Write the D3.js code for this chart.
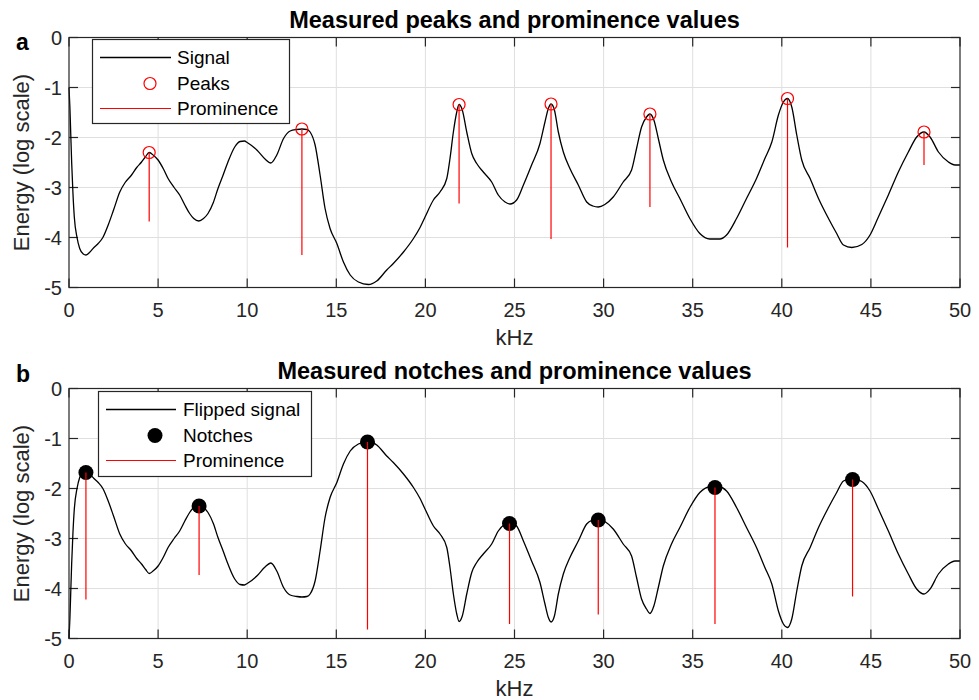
<!DOCTYPE html>
<html>
<head>
<meta charset="utf-8">
<script src="https://cdn.jsdelivr.net/npm/d3@7"></script>
<style>
  body { margin: 0; background: #fff; }
  svg { font-family: "Liberation Sans", Arial, Helvetica, sans-serif; }
  .grid line { stroke: #dfdfdf; stroke-width: 1; }
  .frame { fill: none; stroke: #262626; stroke-width: 1.2; }
  .tick-mark { stroke: #262626; stroke-width: 1.2; }
  .tick-label { fill: #262626; font-size: 20px; }
  .axis-label { fill: #262626; font-size: 22px; }
  .title { fill: #000; font-size: 23.5px; font-weight: bold; }
  .panel-tag { fill: #000; font-size: 23px; font-weight: bold; }
  .legend-box { fill: #fff; stroke: #262626; stroke-width: 1.2; }
  .legend-text { fill: #000; font-size: 19px; }
</style>
</head>
<body>
<svg id="chart" width="979" height="700"></svg>
<script>
// frequency axis shared by both curves (kHz)
const freqKHz = [
  0.00, 0.05, 0.10, 0.15, 0.22, 0.30, 0.45, 0.60, 0.80, 0.95, 1.15, 1.40, 1.64, 1.90,
  2.20, 2.50, 2.85, 3.15, 3.51, 3.80, 4.07, 4.30, 4.50, 4.75, 5.00, 5.30, 5.56, 5.90,
  6.21, 6.50, 6.77, 7.00, 7.28, 7.55, 7.80, 8.10, 8.36, 8.65, 8.92, 9.30, 9.60, 9.85,
  10.00, 10.54, 11.00, 11.33, 11.66, 12.04, 12.41, 12.79, 13.07, 13.35, 13.53, 13.81,
  14.09, 14.37, 14.65, 15.03, 15.40, 15.78, 16.24, 16.80, 17.27, 17.83, 18.20, 18.77,
  19.33, 19.70, 19.98, 20.45, 20.82, 21.20, 21.38, 21.57, 21.76, 21.89, 22.07, 22.32,
  22.60, 22.88, 23.25, 23.72, 24.09, 24.47, 24.75, 25.12, 25.50, 25.96, 26.43, 26.71,
  26.90, 27.05, 27.24, 27.46, 27.74, 28.11, 28.58, 29.05, 29.40, 29.70, 30.07, 30.54,
  31.10, 31.57, 31.85, 32.13, 32.41, 32.60, 32.82, 33.07, 33.35, 33.81, 34.28, 34.84,
  35.40, 35.96, 36.52, 36.90, 37.46, 38.02, 38.58, 39.05, 39.44, 39.81, 40.09, 40.32,
  40.56, 40.84, 41.12, 41.59, 42.06, 42.62, 43.08, 43.46, 43.93, 44.49, 44.95, 45.42,
  45.98, 46.54, 47.10, 47.57, 47.98, 48.32, 48.79, 49.35, 49.72, 50.00
];

const signal = [
  -1.00, -1.40, -1.95, -2.50, -3.10, -3.60, -4.00, -4.22, -4.33, -4.35, -4.30, -4.20, -4.12, -4.00,
  -3.75, -3.45, -3.09, -2.90, -2.75, -2.60, -2.49, -2.38, -2.30, -2.36, -2.45, -2.63, -2.82, -3.00,
  -3.15, -3.35, -3.52, -3.62, -3.67, -3.62, -3.52, -3.30, -3.02, -2.75, -2.49, -2.19, -2.08, -2.07,
  -2.10, -2.25, -2.43, -2.51, -2.35, -2.02, -1.87, -1.84, -1.83, -1.84, -1.89, -2.15,
  -2.75, -3.42, -3.82, -4.12, -4.49, -4.75, -4.89, -4.94, -4.87, -4.65, -4.52, -4.29,
  -4.02, -3.80, -3.59, -3.25, -3.09, -2.82, -2.42, -1.89, -1.49, -1.34, -1.45, -1.89,
  -2.32, -2.52, -2.69, -2.89, -3.15, -3.29, -3.33, -3.25, -2.95, -2.55, -2.12, -1.69,
  -1.42, -1.33, -1.45, -1.89, -2.29, -2.62, -2.95, -3.29, -3.37, -3.39, -3.34, -3.19,
  -2.89, -2.65, -2.22, -1.79, -1.59, -1.53, -1.65, -2.02, -2.45, -2.89, -3.22, -3.62,
  -3.92, -4.03, -4.03, -3.95, -3.62, -3.22, -2.82, -2.42, -2.09, -1.55, -1.29, -1.22,
  -1.39, -1.95, -2.45, -2.82, -3.22, -3.62, -3.92, -4.15, -4.20, -4.14, -3.95, -3.59,
  -3.15, -2.69, -2.29, -1.99, -1.89, -1.99, -2.29, -2.49, -2.55, -2.55
];

const flippedSignal = [
  -5.00, -4.60, -4.05, -3.50, -2.90, -2.40, -2.00, -1.78, -1.67, -1.65, -1.70, -1.80, -1.88, -2.00,
  -2.25, -2.55, -2.91, -3.10, -3.25, -3.40, -3.51, -3.62, -3.70, -3.64, -3.55, -3.37, -3.18, -3.00,
  -2.85, -2.65, -2.48, -2.38, -2.33, -2.38, -2.48, -2.70, -2.98, -3.25, -3.51, -3.81, -3.92, -3.93,
  -3.90, -3.75, -3.57, -3.49, -3.65, -3.98, -4.13, -4.16, -4.17, -4.16, -4.11, -3.85,
  -3.25, -2.58, -2.18, -1.88, -1.51, -1.25, -1.11, -1.06, -1.13, -1.35, -1.48, -1.71,
  -1.98, -2.20, -2.41, -2.75, -2.91, -3.18, -3.58, -4.11, -4.51, -4.66, -4.55, -4.11,
  -3.68, -3.48, -3.31, -3.11, -2.85, -2.71, -2.67, -2.75, -3.05, -3.45, -3.88, -4.31,
  -4.58, -4.67, -4.55, -4.11, -3.71, -3.38, -3.05, -2.71, -2.63, -2.61, -2.66, -2.81,
  -3.11, -3.35, -3.78, -4.21, -4.41, -4.50, -4.35, -3.98, -3.55, -3.11, -2.78, -2.38,
  -2.08, -1.97, -1.97, -2.05, -2.38, -2.78, -3.18, -3.58, -3.91, -4.45, -4.71, -4.78,
  -4.61, -4.05, -3.55, -3.18, -2.78, -2.38, -2.08, -1.85, -1.80, -1.86, -2.05, -2.41,
  -2.85, -3.31, -3.71, -4.01, -4.11, -4.01, -3.71, -3.51, -3.45, -3.45
];

const peakLocs = [4.50, 13.07, 21.89, 27.05, 32.60, 40.32, 47.98];
const peakVals = [-2.30, -1.83, -1.34, -1.33, -1.53, -1.22, -1.89];
const peakProms = [1.38, 2.52, 1.98, 2.70, 1.86, 2.98, 0.66];

const notchLocs = [0.95, 7.30, 16.75, 24.72, 29.70, 36.25, 43.97];
const notchVals = [-1.68, -2.35, -1.07, -2.70, -2.63, -1.98, -1.82];
const notchProms = [2.54, 1.38, 3.75, 2.01, 1.89, 2.73, 2.34];

const xTicks = [0, 5, 10, 15, 20, 25, 30, 35, 40, 45, 50];
const yTicks = [0, -1, -2, -3, -4, -5];

const plotLeft = 69, plotRight = 960;
const tickLen = 9;
const svg = d3.select("#chart");

const x = d3.scaleLinear().domain([0, 50]).range([plotLeft, plotRight]);

function drawPanel(opts) {
    const y = d3.scaleLinear().domain([-5, 0]).range([opts.bottom, opts.top]);
    const g = svg.append("g");

    // grid
    const grid = g.append("g").attr("class", "grid");
    grid.selectAll("line.gx").data(xTicks.slice(1, -1)).enter().append("line")
        .attr("x1", d => x(d)).attr("x2", d => x(d))
        .attr("y1", opts.top).attr("y2", opts.bottom);
    grid.selectAll("line.gy").data(yTicks.slice(1, -1)).enter().append("line")
        .attr("y1", d => y(d)).attr("y2", d => y(d))
        .attr("x1", plotLeft).attr("x2", plotRight);

    // tick marks inward on all four sides
    const ticks = g.append("g");
    xTicks.forEach(t => {
        ticks.append("line").attr("class", "tick-mark")
            .attr("x1", x(t)).attr("x2", x(t)).attr("y1", opts.bottom).attr("y2", opts.bottom - tickLen);
        ticks.append("line").attr("class", "tick-mark")
            .attr("x1", x(t)).attr("x2", x(t)).attr("y1", opts.top).attr("y2", opts.top + tickLen);
    });
    yTicks.forEach(t => {
        ticks.append("line").attr("class", "tick-mark")
            .attr("y1", y(t)).attr("y2", y(t)).attr("x1", plotLeft).attr("x2", plotLeft + tickLen);
        ticks.append("line").attr("class", "tick-mark")
            .attr("y1", y(t)).attr("y2", y(t)).attr("x1", plotRight).attr("x2", plotRight - tickLen);
    });

    // tick labels
    g.selectAll("text.xt").data(xTicks).enter().append("text")
        .attr("class", "tick-label")
        .attr("x", d => x(d)).attr("y", opts.bottom + 29.5)
        .attr("text-anchor", "middle")
        .text(d => d);
    g.selectAll("text.yt").data(yTicks).enter().append("text")
        .attr("class", "tick-label")
        .attr("x", plotLeft - 7).attr("y", d => y(d)).attr("dy", "0.36em")
        .attr("text-anchor", "end")
        .text(d => d);

    // axis labels and title
    g.append("text").attr("class", "axis-label")
        .attr("x", (plotLeft + plotRight) / 2).attr("y", opts.bottom + 57)
        .attr("text-anchor", "middle").text("kHz");
    g.append("text").attr("class", "axis-label")
        .attr("transform", `translate(29,${(opts.top + opts.bottom) / 2}) rotate(-90)`)
        .attr("text-anchor", "middle").text("Energy (log scale)");
    g.append("text").attr("class", "title")
        .attr("x", (plotLeft + plotRight) / 2).attr("y", opts.top - 9.5)
        .attr("text-anchor", "middle").text(opts.title);
    g.append("text").attr("class", "panel-tag")
        .attr("x", 16).attr("y", opts.tagY).text(opts.tag);

    // curve
    const line = d3.line()
        .x((d, i) => x(freqKHz[i]))
        .y(d => y(d))
        .curve(d3.curveMonotoneX);
    g.append("path").datum(opts.values)
        .attr("d", line)
        .attr("fill", "none").attr("stroke", "#000").attr("stroke-width", 1.3);

    // markers
    const idx = d3.range(opts.locs.length);
    if (opts.filled) {
        g.selectAll("circle.mk").data(idx).enter().append("circle")
            .attr("cx", i => x(opts.locs[i])).attr("cy", i => y(opts.vals[i]))
            .attr("r", 7.5).attr("fill", "#000");
    } else {
        g.selectAll("circle.mk").data(idx).enter().append("circle")
            .attr("cx", i => x(opts.locs[i])).attr("cy", i => y(opts.vals[i]))
            .attr("r", 6).attr("fill", "none").attr("stroke", "#ff0000").attr("stroke-width", 1.2);
    }
    // prominence lines
    g.selectAll("line.prom").data(idx).enter().append("line")
        .attr("x1", i => x(opts.locs[i])).attr("x2", i => x(opts.locs[i]))
        .attr("y1", i => y(opts.vals[i])).attr("y2", i => y(opts.vals[i] - opts.proms[i]))
        .attr("stroke", "#ff0000").attr("stroke-width", 1.2);

    // frame
    g.append("rect").attr("class", "frame")
        .attr("x", plotLeft).attr("y", opts.top)
        .attr("width", plotRight - plotLeft).attr("height", opts.bottom - opts.top);

    // legend
    const L = opts.legend;
    const lg = g.append("g");
    lg.append("rect").attr("class", "legend-box")
        .attr("x", L.x).attr("y", L.y).attr("width", L.w).attr("height", L.h);
    const rows = [L.y + 18, L.y + 44, L.y + 69];
    lg.append("line").attr("x1", L.lineX1).attr("x2", L.lineX2)
        .attr("y1", rows[0]).attr("y2", rows[0]).attr("stroke", "#000").attr("stroke-width", 1.3);
    if (opts.filled) {
        lg.append("circle").attr("cx", L.markX).attr("cy", rows[1]).attr("r", 7.5).attr("fill", "#000");
    } else {
        lg.append("circle").attr("cx", L.markX).attr("cy", rows[1]).attr("r", 6)
            .attr("fill", "none").attr("stroke", "#ff0000").attr("stroke-width", 1.2);
    }
    lg.append("line").attr("x1", L.lineX1).attr("x2", L.lineX2)
        .attr("y1", rows[2]).attr("y2", rows[2]).attr("stroke", "#ff0000").attr("stroke-width", 1.2);
    lg.selectAll("text").data(L.labels).enter().append("text")
        .attr("class", "legend-text")
        .attr("x", L.textX).attr("y", (d, i) => rows[i]).attr("dy", "0.36em")
        .text(d => d);
}

drawPanel({
    top: 37.5, bottom: 287.5, tag: "a", tagY: 50,
    title: "Measured peaks and prominence values",
    values: signal, locs: peakLocs, vals: peakVals, proms: peakProms, filled: false,
    legend: { x: 92.5, y: 39.5, w: 197, h: 84, lineX1: 100, lineX2: 171, markX: 150, textX: 177,
              labels: ["Signal", "Peaks", "Prominence"] }
});

drawPanel({
    top: 388.5, bottom: 638.5, tag: "b", tagY: 382,
    title: "Measured notches and prominence values",
    values: flippedSignal, locs: notchLocs, vals: notchVals, proms: notchProms, filled: true,
    legend: { x: 98.5, y: 391.5, w: 213, h: 85, lineX1: 106, lineX2: 176, markX: 155, textX: 183,
              labels: ["Flipped signal", "Notches", "Prominence"] }
});
</script>
</body>
</html>
